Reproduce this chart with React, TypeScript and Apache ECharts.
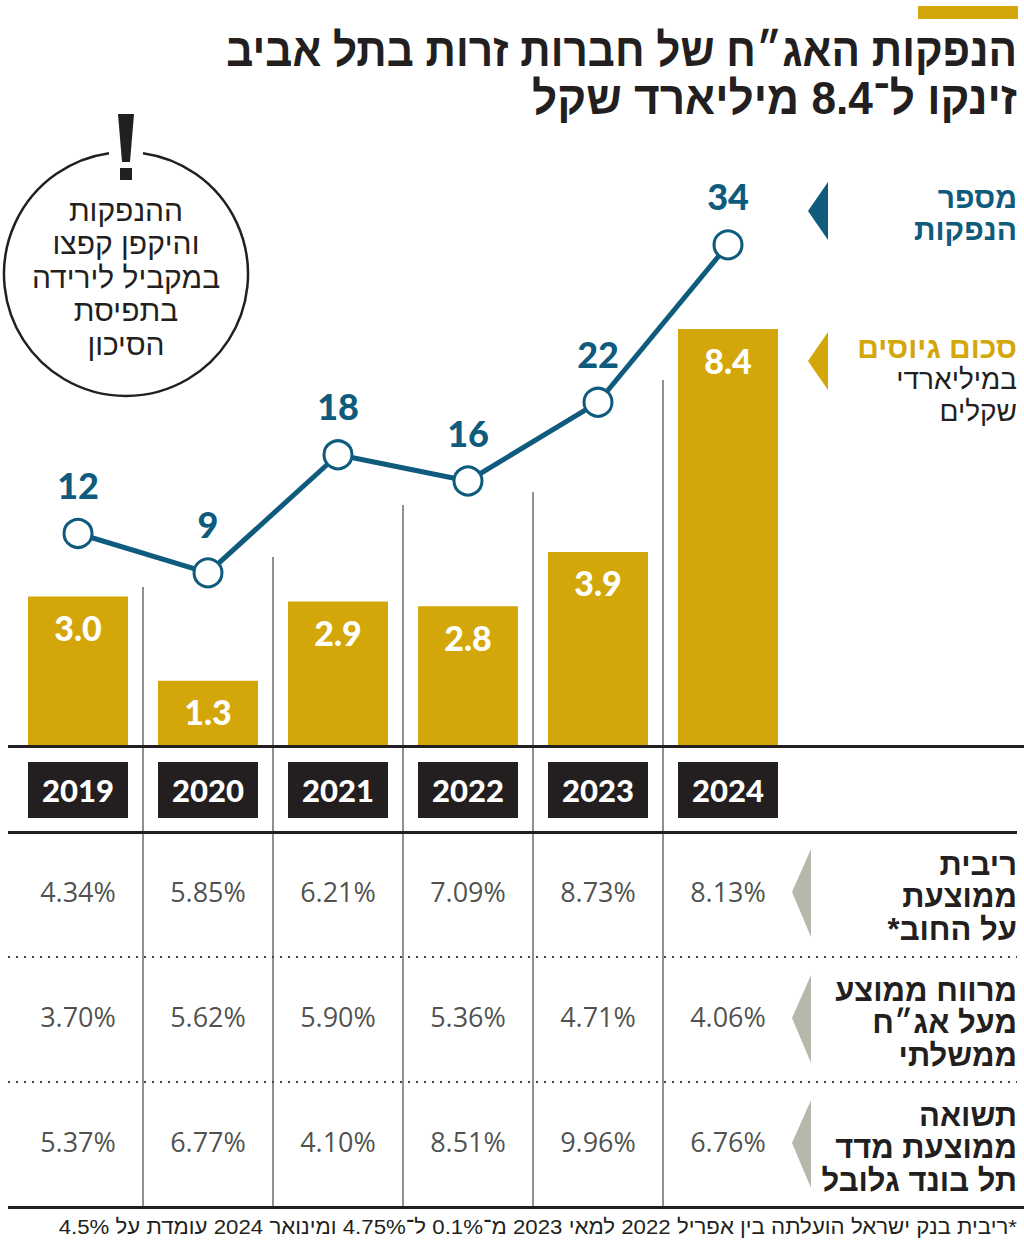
import React, { useEffect, useRef } from 'react';
import * as echarts from 'echarts';

const years = ['2019', '2020', '2021', '2022', '2023', '2024'];
const amounts = [3.0, 1.3, 2.9, 2.8, 3.9, 8.4];
const issues = [12, 9, 18, 16, 22, 34];
const avgRate = [4.34, 5.85, 6.21, 7.09, 8.73, 8.13];
const spread = [3.7, 5.62, 5.9, 5.36, 4.71, 4.06];
const bondReturn = [5.37, 6.77, 4.1, 8.51, 9.96, 6.76];
const rowKeys = ['rate', 'spread', 'return'];
const titleLines = ['הנפקות האג״ח של חברות זרות בתל אביב', 'זינקו ל־8.4 מיליארד שקל'];
const noteLines = ['ההנפקות', 'והיקפן קפצו', 'במקביל לירידה', 'בתפיסת', 'הסיכון'];
const rowLabels = [
  ['ריבית', 'ממוצעת', 'על החוב*'],
  ['מרווח ממוצע', 'מעל אג״ח', 'ממשלתי'],
  ['תשואה', 'ממוצעת מדד', 'תל בונד גלובל'],
];
const legendIssues = ['מספר', 'הנפקות'];
const legendAmount = 'סכום גיוסים';
const legendAmountSub = ['במיליארדי', 'שקלים'];
const footnote = '*ריבית בנק ישראל הועלתה בין אפריל 2022 למאי 2023 מ־0.1% ל־4.75% ומינואר 2024 עומדת על 4.5%';

const GOLD = '#D3A70A';
const BLUE = '#0F5B7D';
const DARK = '#231F20';
const GRAY = '#B7B8AC';
const HEB = "'Liberation Sans', 'DejaVu Sans', sans-serif";
const NUM = "Lato, 'Open Sans', sans-serif";

const rtl = (s: string) => '\u202B' + s + '\u202C';

function heText(text: string, x: number, y: number, size: number, weight: string, color: string, align = 'right', scaleX = 1): any {
  return {
    type: 'text',
    x,
    y,
    scaleX,
    z: 10,
    style: {
      text: rtl(text),
      fill: color,
      fontSize: size,
      fontWeight: weight,
      fontFamily: HEB,
      textAlign: align,
      textVerticalAlign: 'middle',
    },
  };
}

export default function App() {
  const ref = useRef<HTMLDivElement>(null);
  useEffect(() => {
    if (!ref.current) return;
    const chart = echarts.init(ref.current, null, { renderer: 'svg' });

    const tableRows = [avgRate, spread, bondReturn];
    const tableData: any[] = [];
    tableRows.forEach((arr, r) => arr.forEach((v, i) => tableData.push([i, r, v])));

    const graphics: any[] = [];
    // top gold bar
    graphics.push({ type: 'rect', shape: { x: 918, y: 6, width: 100, height: 13 }, style: { fill: GOLD } });
    // title
    graphics.push(heText(titleLines[0], 1017, 50, 46, 'bold', DARK, 'right', 0.92));
    graphics.push(heText(titleLines[1], 1017, 98, 46, 'bold', DARK, 'right', 0.96));

    // legend
    graphics.push({ type: 'polygon', shape: { points: [[808, 211], [828, 182], [828, 240]] }, style: { fill: BLUE } });
    graphics.push(heText(legendIssues[0], 1017, 197, 30, 'bold', BLUE));
    graphics.push(heText(legendIssues[1], 1017, 229, 30, 'bold', BLUE));
    graphics.push({ type: 'polygon', shape: { points: [[808, 361], [828, 332], [828, 390]] }, style: { fill: GOLD } });
    graphics.push(heText(legendAmount, 1017, 347, 30, 'bold', GOLD));
    graphics.push(heText(legendAmountSub[0], 1017, 379, 28, 'normal', DARK));
    graphics.push(heText(legendAmountSub[1], 1017, 411, 28, 'normal', DARK));

    // note circle
    graphics.push({
      type: 'arc',
      shape: { cx: 126, cy: 274, r: 122, startAngle: -Math.PI / 2 + 0.14, endAngle: Math.PI * 1.5 - 0.14, clockwise: true },
      style: { stroke: DARK, lineWidth: 2.5, fill: null },
    });
    graphics.push({ type: 'polygon', shape: { points: [[118, 114], [134, 114], [130, 162], [122, 162]] }, style: { fill: DARK } });
    graphics.push({ type: 'rect', shape: { x: 120, y: 168, width: 12, height: 12 }, style: { fill: DARK } });
    noteLines.forEach((t, i) => graphics.push(heText(t, 126, 210 + i * 33.5, 30, 'normal', DARK, 'center')));

    // vertical separators
    const sepTops = [587, 557, 505, 492, 380];
    sepTops.forEach((top, k) => {
      const x = 13 + 130 * (k + 1);
      graphics.push({ type: 'line', shape: { x1: x, y1: top, x2: x, y2: 1207 }, style: { stroke: '#555', lineWidth: 1.3 } });
    });

    // horizontal rules
    graphics.push({ type: 'line', z: 5, shape: { x1: 8, y1: 746.5, x2: 1024, y2: 746.5 }, style: { stroke: DARK, lineWidth: 3 } });
    graphics.push({ type: 'line', shape: { x1: 8, y1: 832.5, x2: 1017, y2: 832.5 }, style: { stroke: DARK, lineWidth: 3 } });
    graphics.push({ type: 'line', shape: { x1: 8, y1: 1207.5, x2: 1024, y2: 1207.5 }, style: { stroke: DARK, lineWidth: 3 } });
    [957, 1082].forEach((y) =>
      graphics.push({ type: 'line', shape: { x1: 8, y1: y, x2: 1017, y2: y }, style: { stroke: '#444', lineWidth: 2, lineDash: [2, 6] } })
    );

    // row labels + gray triangles
    const rowTips = [892, 1018, 1143];
    rowLabels.forEach((lines, r) => {
      const tip = rowTips[r];
      graphics.push({ type: 'polygon', shape: { points: [[792, tip], [811, tip - 43], [811, tip + 45]] }, style: { fill: GRAY } });
      lines.forEach((t, j) => graphics.push(heText(t, 1017, tip - 28 + j * 32.5, 31, 'bold', DARK)));
    });

    // footnote
    graphics.push(heText(footnote, 1017, 1227, 21, 'normal', DARK, 'right', 1.06));

    chart.setOption({
      animation: false,
      backgroundColor: '#fff',
      grid: [
        { left: 13, width: 780, top: 230, height: 515 },
        { left: 13, width: 780, top: 829, height: 375 },
      ],
      xAxis: [
        {
          type: 'category',
          gridIndex: 0,
          data: years,
          axisLine: { show: false },
          axisTick: { show: false },
          splitLine: { show: false },
          axisLabel: {
            color: '#fff',
            fontSize: 31,
            fontWeight: 900,
            fontFamily: NUM,
            backgroundColor: DARK,
            width: 100,
            height: 56,
            lineHeight: 56,
            align: 'center',
            margin: 17,
          },
        },
        { type: 'category', gridIndex: 1, data: years, show: false },
      ],
      yAxis: [
        { type: 'value', gridIndex: 0, min: 0, max: 10.4, show: false },
        { type: 'value', gridIndex: 0, min: -4.12, max: 35.13, show: false },
        { type: 'category', gridIndex: 1, data: rowKeys, inverse: true, show: false },
      ],
      series: [
        {
          type: 'bar',
          xAxisIndex: 0,
          yAxisIndex: 0,
          data: amounts,
          barWidth: 100,
          itemStyle: { color: GOLD },
          label: {
            show: true,
            position: 'insideTop',
            distance: 14,
            formatter: (p: any) => Number(p.value).toFixed(1),
            color: '#fff',
            fontSize: 34,
            fontWeight: 900,
            fontFamily: NUM,
          },
        },
        {
          type: 'line',
          xAxisIndex: 0,
          yAxisIndex: 1,
          data: issues,
          symbol: 'circle',
          symbolSize: 28,
          lineStyle: { color: BLUE, width: 5 },
          itemStyle: { color: '#fff', borderColor: BLUE, borderWidth: 3 },
          label: {
            show: true,
            position: 'top',
            distance: 15,
            color: BLUE,
            fontSize: 36,
            fontWeight: 900,
            fontFamily: NUM,
          },
          z: 4,
        },
        {
          type: 'scatter',
          xAxisIndex: 1,
          yAxisIndex: 2,
          data: tableData,
          symbolSize: 1,
          itemStyle: { color: 'rgba(0,0,0,0)' },
          label: {
            show: true,
            position: 'inside',
            formatter: (p: any) => Number(p.value[2]).toFixed(2) + '%',
            color: DARK,
            fontSize: 27,
            fontFamily: "'Open Sans', 'Noto Sans', sans-serif",
          },
        },
      ],
      graphic: graphics,
    });
    return () => chart.dispose();
  }, []);
  return <div ref={ref} style={{ position: 'absolute', left: 0, top: 0, width: 1024, height: 1245 }} />;
}
